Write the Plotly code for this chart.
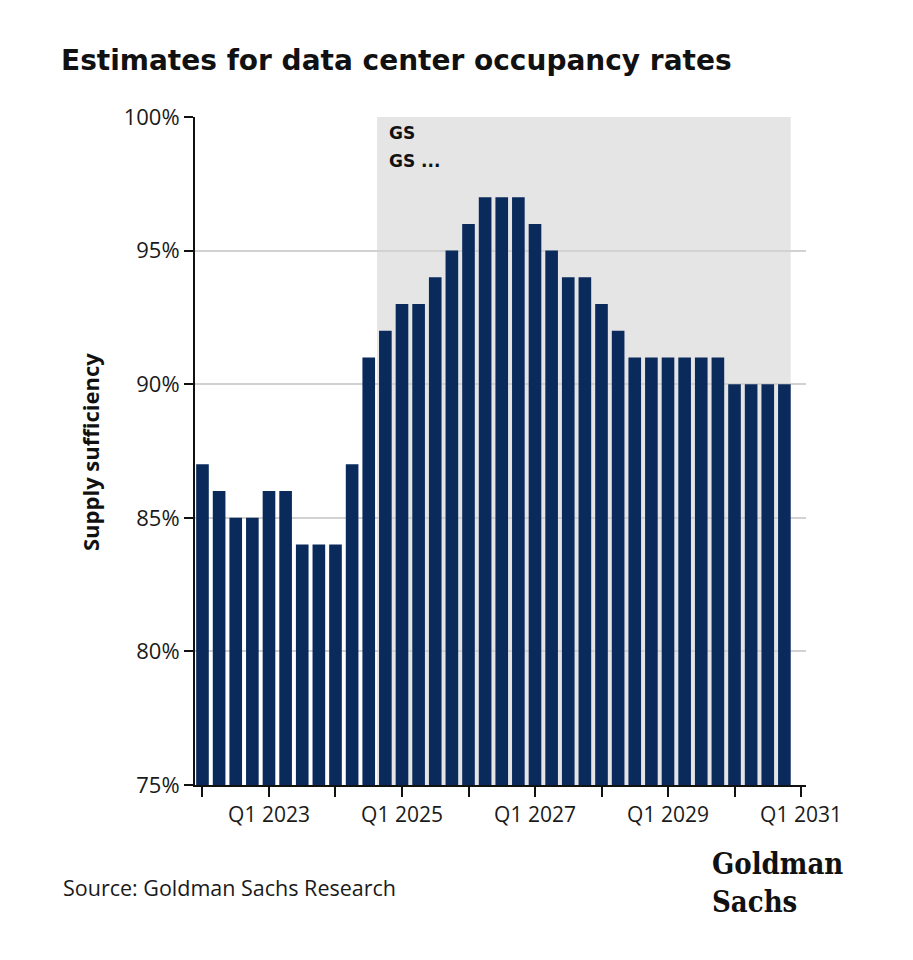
import plotly.graph_objects as go

quarters = [f"Q{q} {y}" for y in range(2022, 2031) for q in range(1, 5)]
values = [87, 86, 85, 85, 86, 86, 84, 84, 84, 87,
          91, 92, 93, 93, 94, 95, 96, 97, 97, 97,
          96, 95, 94, 94, 93, 92, 91, 91, 91, 91,
          91, 91, 90, 90, 90, 90]
tick_labels = ["", "Q1 2023", "", "Q1 2025", "", "Q1 2027", "", "Q1 2029", "", "Q1 2031"]
y_ticks = [75, 80, 85, 90, 95, 100]
forecast_start = "Q4 2024"

xpos = list(range(len(values)))
tickvals = list(range(0, 37, 4))
fstart = quarters.index(forecast_start) - 0.5

NAVY = "#0b2a5c"
OFF = 8  # page body margin offset
W, H = 913, 960
PL, PR, PT, PB = 195 - OFF, 806 - OFF, 117 - OFF, 785 - OFF
PW, PH = PR - PL, PB - PT


def px(xs):
    return (xs - OFF - PL) / PW


def py(ys):
    return 1 - (ys - OFF - PT) / PH


fig = go.Figure()
fig.add_trace(go.Bar(x=xpos, y=values, marker=dict(color=NAVY, line=dict(width=0)),
                     hovertext=quarters, showlegend=False))

fig.add_shape(type="rect", xref="x", yref="y", x0=fstart, x1=len(values) - 0.62,
              y0=75, y1=100, fillcolor="#e5e5e5", line=dict(width=0), layer="below")

fig.update_layout(
    width=W, height=H,
    margin=dict(l=PL, r=W - PR, t=PT, b=H - PB, autoexpand=False),
    paper_bgcolor="white", plot_bgcolor="white",
    bargap=0.24,
    font=dict(family="Open Sans, Noto Sans, sans-serif", color="#1a1a1a"),
    title=dict(text="<b>Estimates for data center occupancy rates</b>",
               font=dict(family="DejaVu Sans, Noto Sans, sans-serif", size=28, color="#111111"),
               xref="container", yref="container", x=(61 - OFF) / W, y=1 - (60 - OFF) / H,
               xanchor="left", yanchor="middle"),
)
fig.update_xaxes(range=[-0.45, 36.3], tickmode="array", tickvals=tickvals, ticktext=tick_labels,
                 ticks="outside", ticklen=10, tickwidth=2, tickcolor="#111111",
                 showline=True, linecolor="#111111", linewidth=2, showgrid=False, zeroline=False,
                 tickfont=dict(size=21, color="#1a1a1a"))
fig.update_yaxes(range=[75, 100], tickmode="array", tickvals=y_ticks,
                 ticktext=[f"{v}%" for v in y_ticks],
                 ticks="outside", ticklen=9, tickwidth=2, tickcolor="#111111",
                 showline=True, linecolor="#111111", linewidth=2,
                 showgrid=True, gridcolor="#d2d2d2", gridwidth=1.5, zeroline=False,
                 tickfont=dict(size=22, color="#1a1a1a"))

fig.add_annotation(text="<b>Supply sufficiency</b>", xref="paper", yref="paper",
                   x=px(90), y=py(452), textangle=-90, showarrow=False,
                   xanchor="center", yanchor="middle",
                   font=dict(family="Open Sans, sans-serif", size=22, color="#111111"))
fig.add_annotation(text="<b>GS</b>", xref="paper", yref="paper", x=px(387), y=py(133),
                   xanchor="left", yanchor="middle", showarrow=False,
                   font=dict(family="DejaVu Sans, sans-serif", size=17, color="#111111"))
fig.add_annotation(text="<b>GS ...</b>", xref="paper", yref="paper", x=px(387), y=py(161),
                   xanchor="left", yanchor="middle", showarrow=False,
                   font=dict(family="DejaVu Sans, sans-serif", size=17, color="#111111"))
fig.add_annotation(text="Source: Goldman Sachs Research", xref="paper", yref="paper",
                   x=px(61), y=py(888), xanchor="left", yanchor="middle",
                   showarrow=False, font=dict(size=21.5, color="#1a1a1a"))
fig.add_annotation(text="<b>Goldman<br>Sachs</b>", xref="paper", yref="paper",
                   x=px(710), y=py(883), xanchor="left", yanchor="middle", align="left",
                   showarrow=False,
                   font=dict(family="DejaVu Serif Condensed, DejaVu Serif, Liberation Serif, serif",
                             size=29, color="#111111"))

fig.write_html("out.html")
